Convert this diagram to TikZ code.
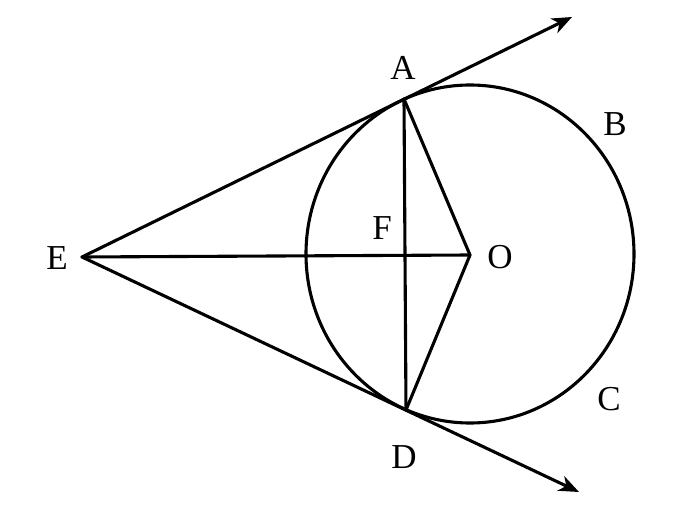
\documentclass[tikz,border=0pt]{standalone}
\usepackage{fontspec}
\setmainfont{Liberation Serif}
\usetikzlibrary{arrows.meta}
\begin{document}
\begin{tikzpicture}[x=1pt,y=-1pt,
  geo/.style={line width=3.1pt,line cap=round,line join=round},
  ray/.style={geo,-{Stealth[length=20pt,width=16pt,inset=6pt]}},
  lbl/.style={font=\fontsize{35}{35}\selectfont,inner sep=0pt}]
\useasboundingbox (0,0) rectangle (673,524);
\coordinate (E) at (82,257);
\coordinate (A) at (404,99);
\coordinate (D) at (406,410);
\coordinate (O) at (470,255);
\coordinate (F) at (405,256);
\coordinate (T1) at (572,17);
\coordinate (T2) at (579,492);
\draw[geo] (470,254) ellipse [x radius=164, y radius=169];
\draw[ray] (E) -- (T1);
\draw[ray] (E) -- (T2);
\draw[geo] (E) -- (O);
\draw[geo] (A) -- (D);
\draw[geo] (A) -- (O) -- (D);
\node[lbl] (lA) at (403,68) {A};
\node[lbl] (lB) at (615,124) {B};
\node[lbl] (lC) at (609,399) {C};
\node[lbl] (lD) at (404,457) {D};
\node[lbl] (lE) at (57,258) {E};
\node[lbl] (lF) at (382,228) {F};
\node[lbl] (lO) at (500,257) {O};
\end{tikzpicture}
\end{document}
